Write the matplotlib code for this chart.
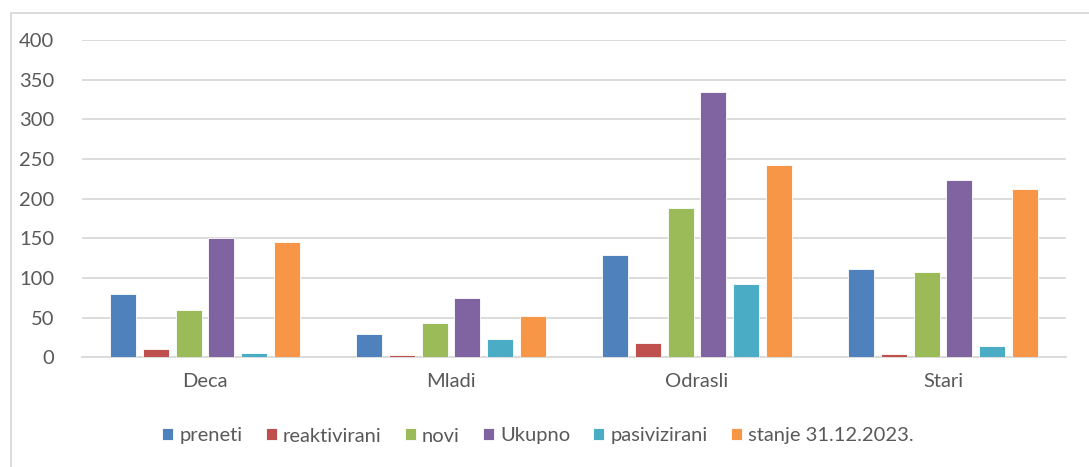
import numpy as np
import matplotlib.pyplot as plt
from matplotlib.patches import Rectangle

categories = ["Deca", "Mladi", "Odrasli", "Stari"]
series_names = ["preneti", "reaktivirani", "novi", "Ukupno", "pasivizirani", "stanje 31.12.2023."]
preneti = [80, 29, 129, 111]
reaktivirani = [10, 3, 18, 4]
novi = [60, 43, 188, 108]
ukupno = [150, 75, 335, 224]
pasivizirani = [5, 23, 93, 14]
stanje = [145, 52, 242, 212]
colors = ["#4F81BD", "#C0504D", "#9BBB59", "#8064A2", "#4BACC6", "#F79646"]

plt.rcParams['font.family'] = ['Lato', 'DejaVu Sans']

fig = plt.figure(figsize=(10.89, 4.67), dpi=100)
# chart border (only top and left visible in reference)
fig.patches.append(Rectangle((11 / 1089, -0.1), 1.2, (1 - 13 / 467) + 0.1,
                             transform=fig.transFigure, fill=False,
                             edgecolor="#D9D9D9", linewidth=1.3))
ax = fig.add_axes([82 / 1089, 1 - 357.3 / 467, (1066 - 82) / 1089, (357.3 - 40) / 467])

data = [preneti, reaktivirani, novi, ukupno, pasivizirani, stanje]
x = np.arange(len(categories))
pitch = 0.133
width = 0.106
for i, (vals, name, c) in enumerate(zip(data, series_names, colors)):
    ax.bar(x + (i - 2.5) * pitch, vals, width, color=c, label=name,
           edgecolor="white", linewidth=0.6, zorder=3)

ax.set_xlim(-0.5, 3.5)
ax.set_ylim(0, 400)
ax.set_yticks(range(0, 401, 50))
ax.set_xticks(x)
ax.set_xticklabels(categories)
ax.yaxis.grid(True, color="#D9D9D9", linewidth=1.3)
ax.set_axisbelow(True)
for s in ["top", "right", "left"]:
    ax.spines[s].set_visible(False)
ax.spines["bottom"].set_color("#D9D9D9")
ax.spines["bottom"].set_linewidth(1.3)
ax.tick_params(axis="both", length=0, labelsize=14.5, colors="#595959")
ax.tick_params(axis="y", pad=20)
ax.tick_params(axis="x", pad=11)

leg = fig.legend(loc="center", bbox_to_anchor=(0.494, 1 - 436 / 467), ncol=6,
                 frameon=False, fontsize=14.5, handlelength=0.55, handleheight=0.55,
                 handletextpad=0.3, columnspacing=1.15)
for t in leg.get_texts():
    t.set_color("#595959")

fig.savefig("out.png", dpi=100, facecolor="white")
